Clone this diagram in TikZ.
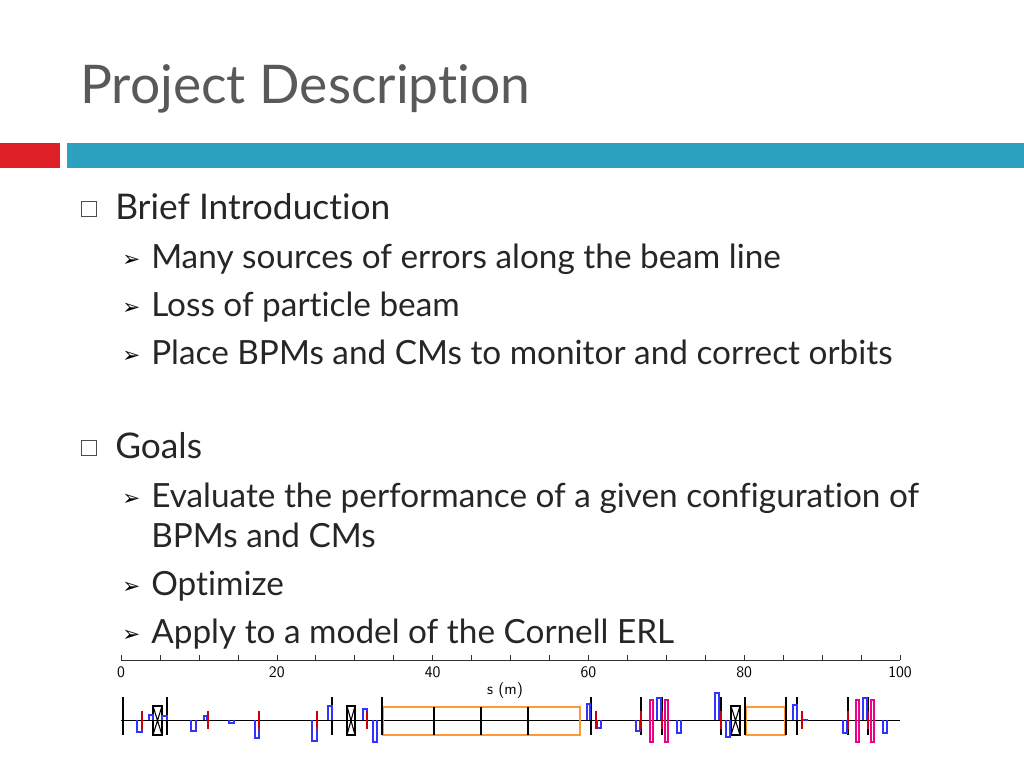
\documentclass[tikz,border=0pt]{standalone}
\usepackage{fontspec}
\setmainfont{Lato}[Ligatures={NoCommon}]
\newfontfamily\symf{DejaVu Sans}
\definecolor{teal1}{HTML}{2CA1C0}
\definecolor{red1}{HTML}{DF1F26}
\begin{document}
\begin{tikzpicture}[x=0.75pt,y=-0.75pt,
  tt/.style={anchor=base west,inner sep=0,text=black!85,font=\fontsize{26.5}{30}\selectfont},
  st/.style={anchor=base west,inner sep=0,text=black!85,font=\fontsize{25}{30}\selectfont},
  ar/.style={anchor=base west,inner sep=0,font=\symf\fontsize{16}{18}\selectfont},
  sf/.style={font=\sffamily\fontsize{12}{14}\selectfont,inner sep=0},
  bl/.style={draw=blue!80!white,line width=0.8pt},
  rd/.style={draw=red!80!black,line width=2.2pt},
  mg/.style={draw=magenta,line width=0.8pt},
  bk/.style={draw=black,line width=0.8pt},
  og/.style={draw=orange!80!white,line width=0.8pt}]
\useasboundingbox (0,0) rectangle (1024,768);
\node[anchor=base west,inner sep=0,text=black!65,font=\fontsize{40}{44}\selectfont] (title) at (80,103) {Project Description};
\fill[red1] (0,143) rectangle (60,168);
\fill[teal1] (67,143) rectangle (1024,168);
\draw[black!70] (81,201) rectangle (96,216);
\node[tt] (b1) at (115,219) {Brief Introduction};
\foreach \y/\t in {268/Many sources of errors along the beam line,316/Loss of particle beam,364/Place BPMs and CMs to monitor and correct orbits,507/Evaluate the performance of a given configuration of,595/Optimize,643/Apply to a model of the Cornell ERL}{
  \node[ar] at (122,\y-2) {➢};
  \node[st] at (151,\y) {\t};}
\node[st] at (151,547) {BPMs and CMs};
\draw[black!70] (81,440) rectangle (96,455);
\node[tt] (b2) at (115,458) {Goals};
% axis
\draw[black!80] (121,660) -- (900,660);
\foreach \i in {0,...,20} \draw[black!80] (121+\i*38.95,660) -- (121+\i*38.95,655);
\foreach \v in {0,20,40,60,80,100} \node[sf] at (121+\v*7.79,672) {\v};
\node[sf] (sm) at (505,690) {s (m)};
% beam line
\draw[black] (121,720) -- (900,720);
\draw[og] (383,707) rectangle (580,735);
\foreach \x in {434,481,528} \draw[bk] (\x,707) -- (\x,735);
\draw[og] (746,707) rectangle (785,735);
\foreach \x in {123,167,332,382,591,641,662,721,745,786,797,848,868} \draw[bk] (\x,697) -- (\x,735);
\foreach \a/\b in {153/162,347/355,731/740}{\draw[bk] (\a,706) rectangle (\b,735); \draw[bk] (\a,706)--(\b,735) (\b,706)--(\a,735);}
\foreach \a/\b/\h in {137/142/732,149/153/715,162/167/716,191/196/731,204/207/716,229/234/723,255/259/738,312/317/741,328/332/706,363/367/709,373/377/742,587/590/704,597/601/728,636/640/731,657/661/698,677/681/733,715/719/693,726/730/737,793/797/705,843/847/733,863/867/698,883/887/733}
  \draw[bl] (\a,720) -- (\a,\h) -- (\b,\h) -- (\b,720);
\draw[bl] (802,720) -- (808,720);
\foreach \x in {142,208,259,317,367,641,662,721,848,868} \draw[rd] (\x,711) -- (\x,729);
\draw[red!80!black,line width=1pt] (596,711) -- (596,729) (802,711)--(802,729);
\foreach \a/\b in {650/653,665/668,856/859,871/874} \draw[mg] (\a,700) rectangle (\b,742);
\end{tikzpicture}
\end{document}
